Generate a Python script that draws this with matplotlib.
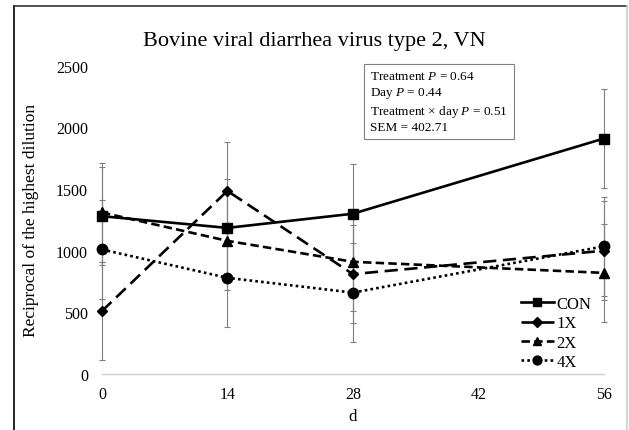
import matplotlib
matplotlib.use("Agg")
import matplotlib.pyplot as plt
from matplotlib.lines import Line2D

plt.rcParams["font.family"] = ["Liberation Serif", "DejaVu Serif"]
plt.rcParams["mathtext.fontset"] = "custom"
plt.rcParams["mathtext.it"] = "Liberation Serif:italic"
plt.rcParams["mathtext.rm"] = "Liberation Serif"

days = [0, 14, 28, 56]
con = [1280, 1185, 1300, 1910]
x1 = [510, 1485, 810, 1000]
x2 = [1310, 1080, 910, 820]
x4 = [1010, 780, 660, 1035]
sem = [400, 400, 400, 400]
labels = ["CON", "1X", "2X", "4X"]

styles = [
    dict(ls="-", marker="s", ms=7.5),
    dict(ls=(0, (5, 2.5)), marker="D", ms=5.5),
    dict(ls=(0, (3.2, 1.6)), marker="^", ms=7),
    dict(ls=(0, (1, 1.2)), marker="o", ms=7.5),
]

fig = plt.figure(figsize=(6.29, 4.31), dpi=100)
ax = fig.add_axes([0.162, 0.130, 0.798, 0.715])

for ys, lab, st in zip([con, x1, x2, x4], labels, styles):
    ax.errorbar(days, ys, yerr=sem, fmt="none", ecolor="#7f7f7f", elinewidth=0.8,
                capsize=2, capthick=0.8, zorder=1, clip_on=False)
    ax.plot(days, ys, color="black", lw=1.9, label=lab, zorder=3, clip_on=False,
            ls=st["ls"], marker=st["marker"], ms=st["ms"])

ax.set_xlim(0, 56)
ax.set_ylim(0, 2500)
ax.set_xticks([0, 14, 28, 42, 56])
ax.set_yticks([0, 500, 1000, 1500, 2000, 2500])
for s in ["top", "right", "left"]:
    ax.spines[s].set_visible(False)
ax.spines["bottom"].set_color("#d0d0d0")
ax.spines["bottom"].set_linewidth(1)
ax.tick_params(axis="both", length=0, labelsize=11.5)
ax.tick_params(axis="y", pad=10)
ax.tick_params(axis="x", pad=9)
ax.set_xlabel("d", fontsize=12, labelpad=4)
ax.set_ylabel("Reciprocal of the highest dilution", fontsize=12.5, labelpad=12)
fig.suptitle("Bovine viral diarrhea virus type 2, VN", fontsize=16, y=0.925)

ax.text(0.535, 0.985,
        "Treatment $\\mathit{P}$ = 0.64\nDay $\\mathit{P}$ = 0.44\n"
        "Treatment × day $\\mathit{P}$ = 0.51\nSEM = 402.71",
        transform=ax.transAxes, fontsize=9.5, va="top", ha="left", linespacing=1.25,
        bbox=dict(boxstyle="square,pad=0.45", fc="white", ec="#808080", lw=0.8))

ax.legend(loc="lower right", bbox_to_anchor=(0.995, -0.02), frameon=False, fontsize=12,
          handlelength=2.0, handletextpad=0.15, labelspacing=0.2, borderaxespad=0.2,
          markerscale=0.85)

# outer picture frame
fig.add_artist(Line2D([0.022, 0.022], [0, 0.984], color="black", lw=1.2))
fig.add_artist(Line2D([0.022, 0.997], [0.984, 0.984], color="#333333", lw=1.2))
fig.add_artist(Line2D([0.997, 0.997], [0, 0.984], color="#cccccc", lw=1.2))

fig.savefig("out.png", dpi=100)
